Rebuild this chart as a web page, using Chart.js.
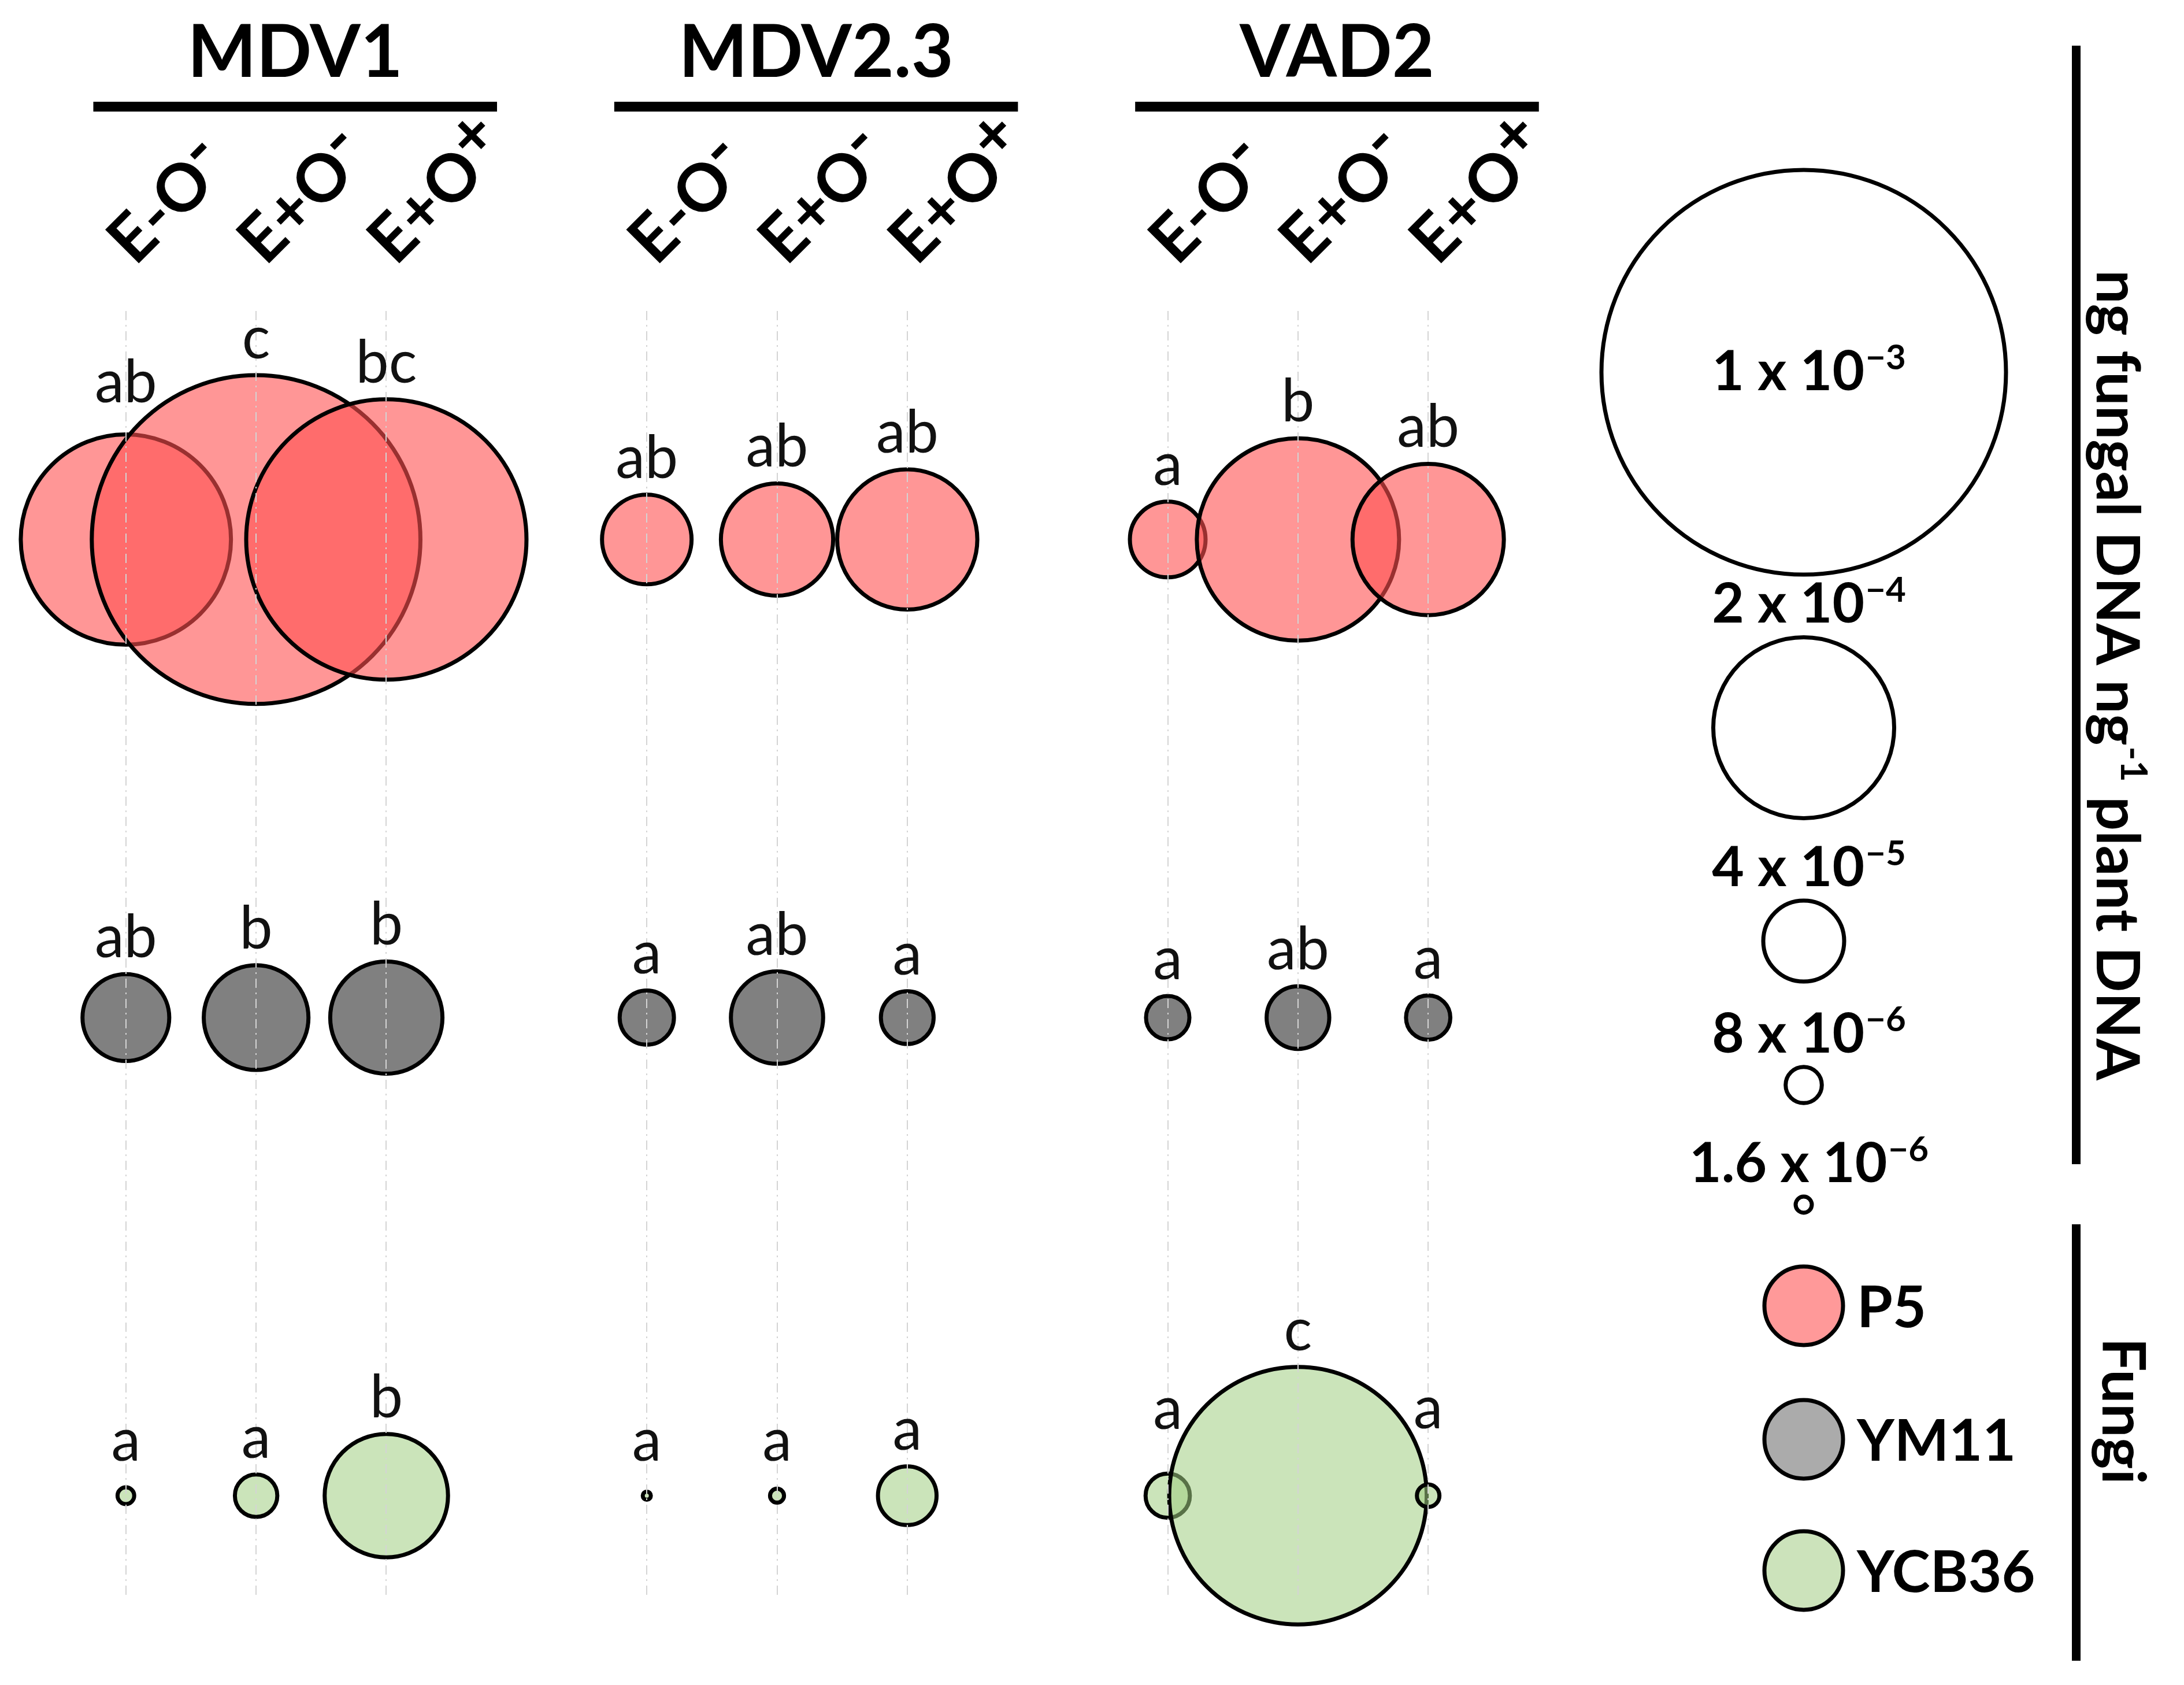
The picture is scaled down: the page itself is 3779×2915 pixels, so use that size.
<!DOCTYPE html>
<html>
<head>
<meta charset="utf-8">
<script src="https://cdn.jsdelivr.net/npm/chart.js@4.4.0/dist/chart.umd.min.js"></script>
<style>
  html, body { margin: 0; padding: 0; background: #fff; }
  canvas { display: block; }
</style>
</head>
<body>
<canvas id="chart" width="3779" height="2915"></canvas>
<script>
// groups
const cultivars = ['MDV1', 'MDV2.3', 'VAD2'];
const treatments = ['E-O-', 'E+O-', 'E+O+'];
const fungi = ['P5', 'YM11', 'YCB36'];

// ng fungal DNA ng-1 plant DNA, order: MDV1 (E-O-, E+O-, E+O+), MDV2.3 (...), VAD2 (...)
const p5Values = [2.7e-4, 6.6e-4, 4.8e-4, 4.9e-5, 7.7e-5, 1.2e-4, 3.5e-5, 2.5e-4, 1.4e-4];
const ym11Values = [4.6e-5, 6.7e-5, 7.7e-5, 1.8e-5, 5.2e-5, 1.7e-5, 1.15e-5, 2.4e-5, 1.2e-5];
const ycb36Values = [1.7e-6, 1.1e-5, 9.3e-5, 4e-7, 1.2e-6, 2.1e-5, 1.2e-5, 4.05e-4, 3.1e-6];

// significance letters
const p5Letters = ['ab', 'c', 'bc', 'ab', 'ab', 'ab', 'a', 'b', 'ab'];
const ym11Letters = ['ab', 'b', 'b', 'a', 'ab', 'a', 'a', 'ab', 'a'];
const ycb36Letters = ['a', 'a', 'b', 'a', 'a', 'a', 'a', 'c', 'a'];

// size legend
const sizeLegendValues = [1e-3, 2e-4, 4e-5, 8e-6, 1.6e-6];
const sizeLegendMantissa = ['1', '2', '4', '8', '1.6'];
const sizeLegendExponent = ['\u22123', '\u22124', '\u22125', '\u22126', '\u22126'];

const seriesValues = [p5Values, ym11Values, ycb36Values];
const seriesLetters = [p5Letters, ym11Letters, ycb36Letters];
const fillColors = ['rgba(255,80,80,0.6)', '#808080', 'rgba(160,205,130,0.55)'];
const legendColors = ['#ff9999', '#ababab', '#cce3bb'];

// bubble area is proportional to value, 1e-3 -> 350px radius
const radiusFor = v => 350 * Math.sqrt(v / 1e-3);

// x slot for each bar: cultivar i, treatment j -> i*4 + j (one empty slot between groups)
const slots = [];
cultivars.forEach((c, i) => treatments.forEach((t, j) => slots.push(i * 4 + j)));

const datasets = fungi.map((f, k) => ({
  label: f,
  data: seriesValues[k].map((v, n) => ({ x: slots[n], y: k, r: radiusFor(v), v: v })),
  backgroundColor: fillColors[k],
  borderColor: '#000',
  borderWidth: 7,
  clip: false
}));

function drawSup(ctx, base, sup, x, y, size, align) {
  ctx.font = 'bold ' + size + 'px Lato';
  const wb = ctx.measureText(base).width;
  ctx.font = 'bold ' + Math.round(size * 0.62) + 'px Lato';
  const ws = ctx.measureText(sup).width;
  let x0 = x;
  if (align === 'center') x0 = x - (wb + ws) / 2;
  ctx.textAlign = 'left';
  ctx.font = 'bold ' + size + 'px Lato';
  ctx.fillText(base, x0, y);
  ctx.font = 'bold ' + Math.round(size * 0.62) + 'px Lato';
  ctx.fillText(sup, x0 + wb + 2, y - size * 0.38);
  return wb + ws;
}

const clamp = (v, a, b) => Math.max(a, Math.min(b, v));

const annotations = {
  id: 'annotations',
  afterDraw(chart) {
    const ctx = chart.ctx;
    const xs = chart.scales.x;
    const unit = xs.getPixelForValue(1) - xs.getPixelForValue(0);
    ctx.save();
    ctx.fillStyle = '#000';
    ctx.textBaseline = 'alphabetic';

    // cultivar headers + treatment labels (last sign raised)
    cultivars.forEach((c, i) => {
      const mid = xs.getPixelForValue(i * 4 + 1);
      ctx.font = 'bold 126px Lato';
      ctx.textAlign = 'center';
      ctx.fillText(c, mid + 0.3 * unit, 133);
      ctx.fillRect(mid - 1.25 * unit, 176, 3.1 * unit, 17);
      treatments.forEach((t, j) => {
        const x = xs.getPixelForValue(i * 4 + j);
        ctx.save();
        ctx.translate(x + 16, 462);
        ctx.rotate(-Math.PI / 4);
        ctx.textAlign = 'left';
        const head = t.slice(0, -1), tail = t.slice(-1);
        ctx.font = 'bold 114px Lato';
        ctx.fillText(head, 0, 0);
        const wh = ctx.measureText(head).width;
        ctx.fillText(tail, wh - 2, -30);
        ctx.restore();
      });
    });

    // significance letters above bubbles, lifted clear of neighbouring bubbles
    ctx.font = '102px Lato';
    ctx.textAlign = 'center';
    ctx.fillStyle = '#111';
    const all = [];
    chart.data.datasets.forEach((ds, k) => {
      chart.getDatasetMeta(k).data.forEach(el => all.push(el));
    });
    chart.data.datasets.forEach((ds, k) => {
      chart.getDatasetMeta(k).data.forEach((el, n) => {
        const txt = seriesLetters[k][n];
        const w = ctx.measureText(txt).width;
        const h = 74;
        const hits = yb => all.some(o => {
          if (o === el) return false;
          const cx = clamp(o.x, el.x - w / 2, el.x + w / 2);
          const cy = clamp(o.y, yb - h, yb);
          return Math.hypot(o.x - cx, o.y - cy) < o.options.radius + 8;
        });
        let yb = Math.min(el.y - el.options.radius - 29, el.y - 60);
        let guard = 0;
        while (hits(yb) && guard++ < 200) yb -= 2;
        ctx.fillText(txt, el.x, yb);
      });
    });

    // size legend
    const lx = 3121;
    const circleY = [644, 1259, 1628, 1877, 2084];
    ctx.fillStyle = '#000';
    ctx.strokeStyle = '#000';
    ctx.lineWidth = 7;
    sizeLegendValues.forEach((v, i) => {
      const r = radiusFor(v);
      ctx.beginPath();
      ctx.arc(lx, circleY[i], r, 0, Math.PI * 2);
      ctx.stroke();
      const yb = i === 0 ? circleY[i] + 31 : circleY[i] - r - 25;
      drawSup(ctx, sizeLegendMantissa[i] + ' x 10', sizeLegendExponent[i], lx + 8, yb, 96, 'center');
    });

    // fungi legend
    const fy = [2259, 2490, 2717];
    fungi.forEach((f, k) => {
      ctx.beginPath();
      ctx.arc(lx, fy[k], 68, 0, Math.PI * 2);
      ctx.fillStyle = legendColors[k];
      ctx.fill();
      ctx.lineWidth = 7;
      ctx.stroke();
      ctx.fillStyle = '#000';
      ctx.font = 'bold 100px Lato';
      ctx.textAlign = 'left';
      ctx.fillText(f, 3213, fy[k] + 37);
    });

    // right side brackets and titles
    ctx.fillRect(3585, 79, 15, 1935);
    ctx.fillRect(3585, 2118, 15, 755);

    ctx.save();
    ctx.translate(3628, 1167);
    ctx.rotate(Math.PI / 2);
    ctx.font = 'bold 104px Lato';
    const p1 = 'ng fungal DNA ng', p2 = ' plant DNA';
    const w1 = ctx.measureText(p1).width, w3 = ctx.measureText(p2).width;
    ctx.font = 'bold 64px Lato';
    const w2 = ctx.measureText('-1').width;
    let x0 = -(w1 + w2 + w3) / 2;
    ctx.textAlign = 'left';
    ctx.font = 'bold 104px Lato';
    ctx.fillText(p1, x0, 0);
    ctx.font = 'bold 64px Lato';
    ctx.fillText('-1', x0 + w1 + 2, -42);
    ctx.font = 'bold 104px Lato';
    ctx.fillText(p2, x0 + w1 + w2 + 2, 0);
    ctx.restore();

    ctx.save();
    ctx.translate(3638, 2441);
    ctx.rotate(Math.PI / 2);
    ctx.font = 'bold 104px Lato';
    ctx.textAlign = 'center';
    ctx.fillText('Fungi', 0, 0);
    ctx.restore();

    ctx.restore();
  }
};

new Chart(document.getElementById('chart').getContext('2d'), {
  type: 'bubble',
  data: { datasets: datasets },
  options: {
    responsive: false,
    animation: false,
    devicePixelRatio: 1,
    layout: { autoPadding: false, padding: { left: 15, right: 1105, top: 538, bottom: 153 } },
    plugins: { legend: { display: false }, tooltip: { enabled: false } },
    scales: {
      x: {
        type: 'linear',
        min: -0.9,
        max: 10.9,
        afterBuildTicks: scale => { scale.ticks = slots.map(s => ({ value: s })); },
        ticks: { display: false },
        grid: { drawTicks: false, color: '#d4d4d4', lineWidth: 2, z: 1 },
        border: { display: false, dash: [16, 8, 3, 8] }
      },
      y: {
        type: 'linear',
        reverse: true,
        min: -0.478,
        max: 2.211,
        display: false
      }
    }
  },
  plugins: [annotations]
});
</script>
</body>
</html>
